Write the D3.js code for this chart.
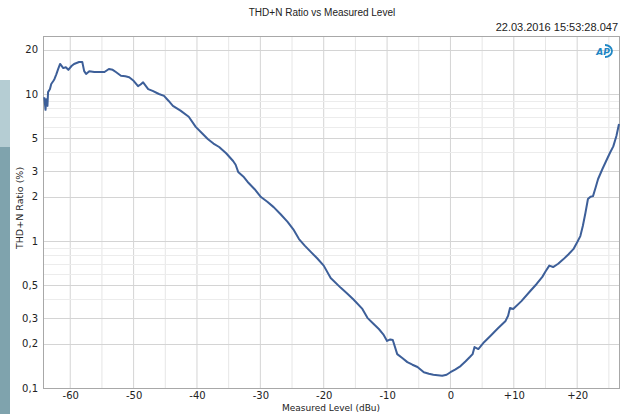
<!DOCTYPE html>
<html>
<head>
<meta charset="utf-8">
<script src="https://cdn.jsdelivr.net/npm/d3@7/dist/d3.min.js"></script>
<style>
    body { margin: 0; background: #fff; }
    svg { display: block; }
    .tick text { font-family: "DejaVu Sans", sans-serif; font-size: 10px; fill: #222; }
</style>
</head>
<body>
<div id="chart"></div>
<script>
// measured level (dBu) and THD+N ratio (%)
var levels = [-64.1, -63.9, -63.8, -63.6, -63.5, -63.2, -63.0, -62.7, -62.5, -62.2, -61.9, -61.6, -61.1,
    -60.7, -60.3, -59.8, -59.4, -58.6, -58.1, -57.8, -57.5, -57.0, -56.2, -55.4, -54.6, -53.9, -53.3,
    -52.8, -52.0, -51.3, -50.7, -50.0, -49.3, -48.9, -48.5, -47.7, -47.0, -46.0, -45.2, -44.5, -43.8,
    -42.6, -41.3, -40.2, -39.2, -38.3, -37.4, -36.5, -35.4, -34.3, -33.9, -33.5, -32.7, -32.0, -30.9,
    -29.9, -28.9, -27.9, -26.8, -25.7, -24.8, -23.9, -23.0, -22.0, -21.0, -20.0, -18.9, -17.3, -16.3,
    -15.3, -13.9, -13.1, -12.2, -11.3, -10.6, -10.0, -9.5, -9.1, -8.4, -7.6, -6.8, -6.0, -5.2, -4.2,
    -3.4, -2.7, -2.0, -1.3, -0.6, 0.0, 0.8, 1.6, 2.4, 3.1, 3.5, 3.8, 4.4, 5.3, 6.3, 7.5, 8.7, 9.1,
    9.4, 9.9, 11.2, 12.6, 13.6, 14.5, 15.0, 15.6, 16.2, 17.0, 17.8, 18.6, 19.4, 20.0, 20.5, 20.9,
    21.3, 21.7, 22.1, 22.5, 22.9, 23.3, 24.0, 24.7, 25.2, 25.7, 26.2, 26.6];
var thdn = [9.5, 7.8, 9.2, 8.3, 10.3, 10.8, 11.7, 12.2, 12.6, 13.6, 14.8, 16.0, 15.0,
    15.2, 14.6, 15.5, 16.0, 16.5, 16.5, 14.3, 13.7, 14.3, 14.1, 14.1, 14.1, 14.8, 14.6,
    14.1, 13.3, 13.2, 13.0, 12.3, 11.3, 11.6, 12.0, 10.8, 10.5, 10.0, 9.7, 9.0, 8.3,
    7.7, 7.0, 5.97, 5.4, 4.94, 4.6, 4.36, 3.95, 3.5, 3.3, 2.95, 2.75, 2.52, 2.25,
    1.99, 1.85, 1.70, 1.52, 1.35, 1.2, 1.03, 0.93, 0.84, 0.76, 0.68, 0.56, 0.48, 0.44,
    0.40, 0.345, 0.30, 0.275, 0.252, 0.232, 0.209, 0.214, 0.212, 0.17, 0.16, 0.15, 0.144, 0.139, 0.128,
    0.125, 0.123, 0.122, 0.121, 0.123, 0.128, 0.134, 0.141, 0.152, 0.163, 0.17, 0.19, 0.184, 0.205, 0.226, 0.255, 0.286, 0.31,
    0.35, 0.345, 0.39, 0.457, 0.51, 0.57, 0.62, 0.68, 0.665, 0.70, 0.75, 0.81, 0.88, 0.98, 1.08, 1.27,
    1.55, 1.93, 2.0, 2.02, 2.3, 2.64, 3.1, 3.6, 4.0, 4.4, 5.2, 6.25];

var xTicks = [-60, -50, -40, -30, -20, -10, 0, 10, 20];
var xGrid = [-60, -55, -50, -45, -40, -35, -30, -25, -20, -15, -10, -5, 0, 5, 10, 15, 20, 25];
var yTicks = [0.1, 0.2, 0.3, 0.5, 1, 2, 3, 5, 10, 20];
var yMinor = [0.4, 0.6, 0.7, 0.8, 0.9, 4, 6, 7, 8, 9];

var title = 'THD+N Ratio vs Measured Level';
var stamp = '22.03.2016 15:53:28.047';
var xLabel = 'Measured Level (dBu)';
var yLabel = 'THD+N Ratio (%)';

var width = 630, height = 414;
var margin = { top: 36, right: 11, bottom: 26, left: 43 };
var w = width - margin.left - margin.right;
var h = height - margin.top - margin.bottom;

var svg = d3.select('#chart').append('svg')
    .attr('width', width)
    .attr('height', height);

// side panel at the left edge
svg.append('rect').attr('x', 0).attr('y', 80).attr('width', 10).attr('height', 67).style('fill', '#b5cdd3');
svg.append('rect').attr('x', 0).attr('y', 147).attr('width', 10).attr('height', 267).style('fill', '#7fa3ad');

svg.append('text')
    .attr('x', 322).attr('y', 16)
    .style('text-anchor', 'middle')
    .style('font-family', '"Liberation Sans Narrow", "Liberation Sans", sans-serif')
    .style('font-size', '10px')
    .style('fill', '#222')
    .text(title);

svg.append('text')
    .attr('x', 618).attr('y', 31)
    .style('text-anchor', 'end')
    .style('font-family', '"Liberation Sans Narrow", "Liberation Sans", sans-serif')
    .style('font-size', '11px')
    .style('fill', '#222')
    .text(stamp);

var chart = svg.append('g')
    .attr('transform', 'translate(' + margin.left + ',' + margin.top + ')');

var x = d3.scaleLinear().domain([-64.3, 26.6]).range([0, w]);
var y = d3.scaleLog().domain([0.1, 24.8]).range([h, 0]);

// grid
chart.append('g').selectAll('line.vgrid')
    .data(xGrid)
    .enter().append('line')
    .attr('x1', function (d) { return x(d); })
    .attr('x2', function (d) { return x(d); })
    .attr('y1', 0).attr('y2', h)
    .style('stroke', function (d) { return d % 10 == 0 ? '#d4d4d4' : '#e6e6e6'; })
    .style('stroke-width', 1);

chart.append('g').selectAll('line.minor')
    .data(yMinor)
    .enter().append('line')
    .attr('x1', 0).attr('x2', w)
    .attr('y1', function (d) { return Math.round(y(d)) + 0.5; })
    .attr('y2', function (d) { return Math.round(y(d)) + 0.5; })
    .style('stroke', '#ececec');

chart.append('g').selectAll('line.major')
    .data(yTicks)
    .enter().append('line')
    .attr('x1', 0).attr('x2', w)
    .attr('y1', function (d) { return Math.round(y(d)) + 0.5; })
    .attr('y2', function (d) { return Math.round(y(d)) + 0.5; })
    .style('stroke', '#d4d4d4');

// axes
var xAxis = d3.axisBottom(x)
    .tickValues(xTicks)
    .tickSize(0)
    .tickPadding(4)
    .tickFormat(function (d) { return d > 0 ? '+' + d : (d < 0 ? '-' + (-d) : '0'); });
chart.append('g')
    .attr('transform', 'translate(0,' + h + ')')
    .call(xAxis)
    .call(function (g) { g.select('.domain').remove(); });

var yAxis = d3.axisLeft(y)
    .tickValues(yTicks)
    .tickSize(0)
    .tickPadding(5)
    .tickFormat(function (d) { return String(d).replace('.', ','); });
chart.append('g')
    .call(yAxis)
    .call(function (g) { g.select('.domain').remove(); });

chart.append('rect')
    .attr('x', 0.5).attr('y', 0.5)
    .attr('width', w).attr('height', h)
    .style('fill', 'none')
    .style('stroke', '#a8a8a8');

// curve
var points = levels.map(function (d, i) { return [d, thdn[i]]; });
var line = d3.line()
    .x(function (d) { return x(d[0]); })
    .y(function (d) { return y(d[1]); });

chart.append('path')
    .datum(points)
    .attr('d', line)
    .style('fill', 'none')
    .style('stroke', '#3d5f99')
    .style('stroke-width', 2)
    .style('stroke-linejoin', 'round');

// axis titles
svg.append('text')
    .attr('x', 331).attr('y', 411)
    .style('text-anchor', 'middle')
    .style('font-family', '"DejaVu Sans", sans-serif')
    .style('font-size', '9px')
    .style('fill', '#222')
    .text(xLabel);

svg.append('text')
    .attr('transform', 'translate(23,208) rotate(-90)')
    .style('text-anchor', 'middle')
    .style('font-family', '"DejaVu Sans", sans-serif')
    .style('font-size', '9.5px')
    .style('fill', '#222')
    .text(yLabel);

// AP logo
var logo = svg.append('g').attr('transform', 'translate(604,51)');
logo.append('path')
    .attr('d', 'M1,-6 A7,6 0 1 1 1,6')
    .style('fill', 'none')
    .style('stroke', '#1f86c4')
    .style('stroke-width', 1.8);
logo.append('text')
    .attr('x', -1).attr('y', 3.5)
    .style('text-anchor', 'middle')
    .style('font-family', '"DejaVu Sans", sans-serif')
    .style('font-weight', 'bold')
    .style('font-style', 'italic')
    .style('font-size', '9px')
    .style('fill', '#1f86c4')
    .text('AP');
</script>
</body>
</html>
